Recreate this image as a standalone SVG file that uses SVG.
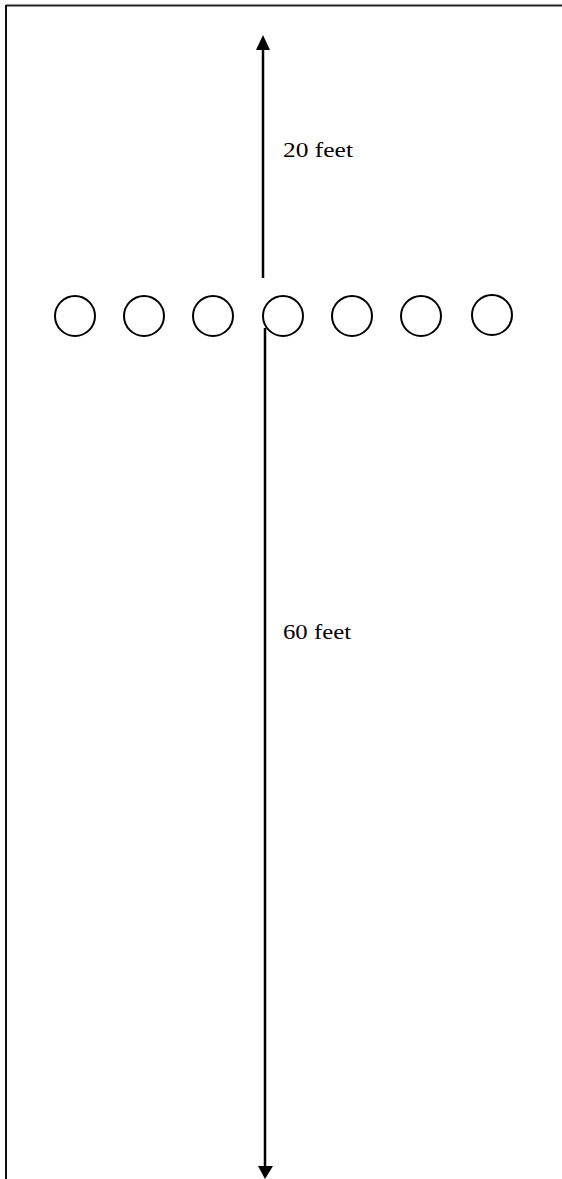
<svg xmlns="http://www.w3.org/2000/svg" width="562" height="1179" viewBox="0 0 562 1179">
<style>
.lbl{font-family:"Liberation Serif","Times New Roman",serif;font-size:22px;fill:#000}
.cone{fill:none;stroke:#000;stroke-width:2}
.dim{stroke:#000;stroke-width:2.5;fill:none}
.head{fill:#000}
</style>
<rect width="562" height="1179" fill="#fff"/>
<g id="border">
<line x1="6" y1="5.5" x2="562" y2="5.5" stroke="#222" stroke-width="2"/>
<line x1="6" y1="5" x2="6" y2="1179" stroke="#111" stroke-width="2"/>
</g>
<g id="connectors">
<line class="dim" x1="263" y1="48" x2="263" y2="278"/>
<polygon class="head" points="263,35 256,50 270,50"/>
<line class="dim" x1="265" y1="328" x2="265" y2="1168"/>
<polygon class="head" points="265,1179 258,1166 273,1166"/>
</g>
<g id="cones">
<circle id="cone1" class="cone" cx="75" cy="316" r="20"/>
<circle id="cone2" class="cone" cx="144" cy="316" r="20"/>
<circle id="cone3" class="cone" cx="213" cy="316" r="20"/>
<circle id="cone4" class="cone" cx="283" cy="316" r="20"/>
<circle id="cone5" class="cone" cx="352" cy="316" r="20"/>
<circle id="cone6" class="cone" cx="421" cy="316" r="20"/>
<circle id="cone7" class="cone" cx="492" cy="315" r="20"/>
</g>
<g id="labels">
<text class="lbl" x="283" y="157" textLength="70" lengthAdjust="spacingAndGlyphs">20 feet</text>
<text class="lbl" x="283" y="639" textLength="68" lengthAdjust="spacingAndGlyphs">60 feet</text>
</g>
</svg>
